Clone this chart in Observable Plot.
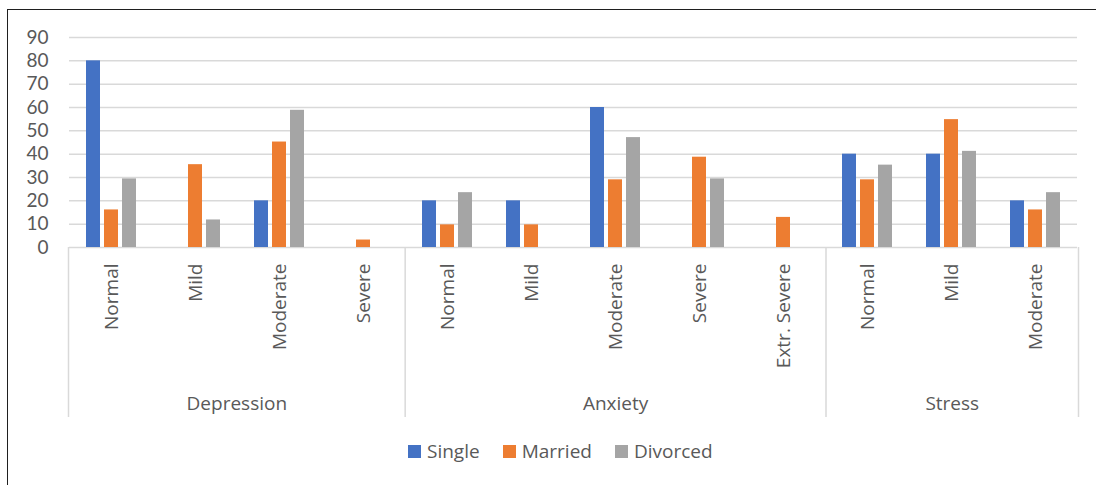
<!DOCTYPE html>
<html>
<head>
<meta charset="utf-8">
<script src="https://cdn.jsdelivr.net/npm/d3@7"></script>
<script src="https://cdn.jsdelivr.net/npm/@observablehq/plot@0.6"></script>
<style>
  html, body { margin: 0; padding: 0; background: #fff; }
  body { width: 1096px; height: 485px; position: relative; overflow: hidden; font-family: "Open Sans", sans-serif; }
  #frame { position: absolute; left: 7px; top: 9px; width: 1200px; height: 600px; border-left: 1.5px solid #1f1f1f; border-top: 1.5px solid #1f1f1f; pointer-events: none; }
  .layer { position: absolute; left: 0; top: 0; }
  #legend { position: absolute; top: 439px; left: 408px; display: flex; align-items: center; color: #595959; font-size: 19px; line-height: 24px; }
  #legend .item { display: flex; align-items: center; margin-right: 23px; }
  #legend .sw { width: 13px; height: 13px; margin-right: 6px; }
</style>
</head>
<body>
<div id="main" class="layer"></div>
<div id="overlay" class="layer"></div>
<div id="legend"></div>
<div id="frame"></div>
<script>
// Scale groups and their severity levels
const groups = ["Depression", "Anxiety", "Stress"];
const depressionLevels = ["Normal", "Mild", "Moderate", "Severe"];
const anxietyLevels = ["Normal", "Mild", "Moderate", "Severe", "Extr. Severe"];
const stressLevels = ["Normal", "Mild", "Moderate"];

// Marital status series (percent), one value per level in the order above
const series = ["Single", "Married", "Divorced"];
const single   = [80, 0, 20, 0,   20, 20, 60, 0, 0,        40, 40, 20];
const married  = [16.1, 35.5, 45.2, 3.2,   9.7, 9.7, 29.0, 38.7, 12.9,   29.0, 54.8, 16.1];
const divorced = [29.4, 11.8, 58.8, 0,   23.5, 0, 47.1, 29.4, 0,   35.3, 41.2, 23.5];
const colors = ["#4472C4", "#ED7D31", "#A5A5A5"];

const yTicks = [0, 10, 20, 30, 40, 50, 60, 70, 80, 90];

// Build the category table
const levelsByGroup = [depressionLevels, anxietyLevels, stressLevels];
const categories = groups.flatMap((g, gi) => levelsByGroup[gi].map(l => ({group: g, level: l, key: `${g}: ${l}`})));
const keys = categories.map(c => c.key);
const levelOf = new Map(categories.map(c => [c.key, c.level]));
const seriesValues = [single, married, divorced];
const rows = categories.flatMap((c, i) => series.map((s, j) => ({key: c.key, series: s, value: seriesValues[j][i]})));

// Group spans along the category index
let start = 0;
const spans = groups.map((g, gi) => {
  const n = levelsByGroup[gi].length;
  const s = {group: g, start, end: start + n, mid: start + n / 2};
  start += n;
  return s;
});
const boundaries = [0, ...spans.map(s => s.end)];

const W = 1096, H = 425;
const font = {fontFamily: "'Open Sans', sans-serif", fontSize: "19px", color: "#595959", background: "transparent"};

const chart = Plot.plot({
  width: W, height: H,
  marginTop: 37, marginBottom: 178, marginLeft: 68, marginRight: 18,
  style: font,
  fx: {domain: keys, padding: 0},
  x: {domain: series, paddingInner: 0.2, paddingOuter: 0.85, axis: null},
  y: {domain: [0, 90]},
  color: {domain: series, range: colors},
  marks: [
    Plot.gridY(yTicks, {stroke: "#d9d9d9", strokeOpacity: 1, strokeWidth: 1.5}),
    Plot.barY(rows, {fx: "key", x: "series", y: "value", fill: "series"}),
    Plot.axisY({ticks: yTicks, tickSize: 0, tickPadding: 21, label: null, fill: "#595959",
                fontFamily: "Lato, sans-serif", fontSize: 19}),
    Plot.axisFx({anchor: "bottom", tickRotate: -90, tickSize: 0, tickPadding: 16, label: null,
                 tickFormat: k => levelOf.get(k), fill: "#595959"})
  ]
});
document.getElementById("main").append(chart);

// Group separators and group labels under the category axis
const groupAxis = Plot.plot({
  width: W, height: H,
  marginTop: 247, marginBottom: 8, marginLeft: 68, marginRight: 18,
  style: font,
  x: {domain: [0, categories.length], axis: null},
  y: {axis: null},
  marks: [
    Plot.ruleX(boundaries, {stroke: "#d9d9d9", strokeWidth: 1.5}),
    Plot.text(spans, {x: "mid", text: "group", frameAnchor: "bottom", dy: -8, fill: "#595959"})
  ]
});
document.getElementById("overlay").append(groupAxis);

// Legend
const legend = document.getElementById("legend");
series.forEach((s, i) => {
  const item = document.createElement("div");
  item.className = "item";
  const sw = document.createElement("span");
  sw.className = "sw";
  sw.style.background = colors[i];
  const label = document.createElement("span");
  label.textContent = s;
  item.append(sw, label);
  legend.append(item);
});
</script>
</body>
</html>
